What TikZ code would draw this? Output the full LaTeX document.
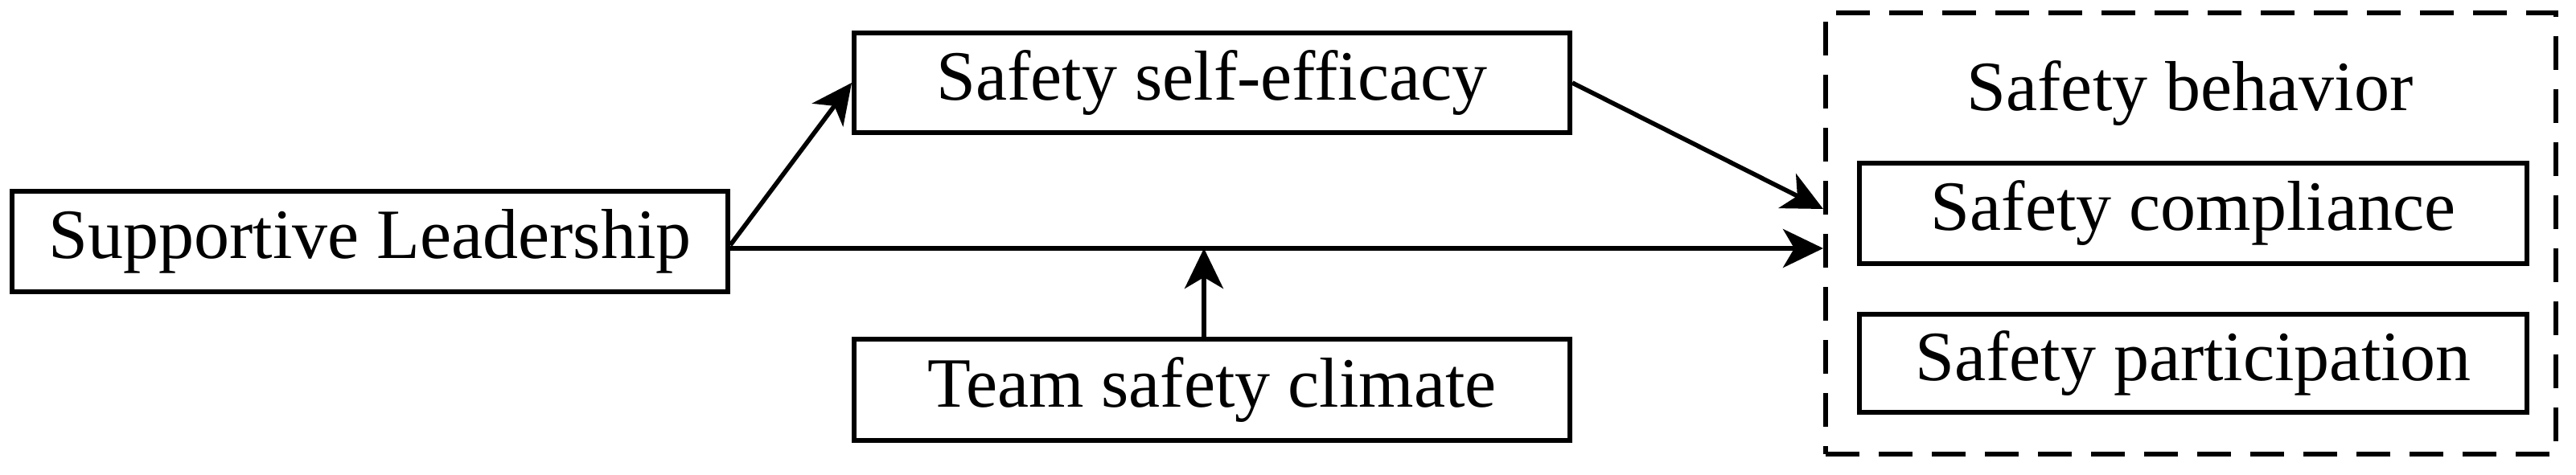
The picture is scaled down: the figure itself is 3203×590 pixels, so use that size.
\documentclass[tikz,border=0pt]{standalone}
\usepackage{fontspec}
\setmainfont{Liberation Serif}
\usetikzlibrary{arrows.meta,calc}
\tikzset{
  boxnode/.style={draw, line width=1.5pt, rectangle, inner sep=0pt, font=\fontsize{22pt}{26pt}\selectfont},
  groupbox/.style={draw, line width=1.5pt, dash pattern=on 10.5pt off 6pt, rectangle, inner sep=0pt},
  arr/.style={line width=1.4pt, -{Stealth[length=12.5pt, width=12pt, inset=3.5pt]}},
}
\begin{document}
\begin{tikzpicture}[x=0.25pt, y=-0.25pt]
\useasboundingbox (0,0) rectangle (3203,590);
\node[boxnode, minimum width=890*0.25pt, minimum height=125*0.25pt] (sl) at (460,300) {Supportive Leadership};
\node[boxnode, minimum width=890*0.25pt, minimum height=124*0.25pt] (sse) at (1507,103) {Safety self-efficacy};
\node[boxnode, minimum width=890*0.25pt, minimum height=126*0.25pt] (tsc) at (1507,485) {Team safety climate};
\node[groupbox, minimum width=908*0.25pt, minimum height=549*0.25pt] (sb) at (2724,290.5) {};
\node[anchor=base, font=\fontsize{22pt}{26pt}\selectfont] (sbt) at (2723,137) {Safety behavior};
\node[boxnode, minimum width=830*0.25pt, minimum height=125*0.25pt] (sc) at (2727,265) {Safety compliance};
\node[boxnode, minimum width=830*0.25pt, minimum height=122*0.25pt] (sp) at (2727,452) {Safety participation};
\coordinate (hl) at (2270,309);
\coordinate (mod) at (1497,309);
\draw[arr] ([yshift=-5*0.25pt]sl.east) -- (sse.west);
\draw[arr] (sl.east |- hl) -- (sb.west |- hl);
\draw[arr] (tsc.north -| mod) -- (mod);
\draw[arr] (sse.east) -- (sb.west |- 0,260);
\end{tikzpicture}
\end{document}
